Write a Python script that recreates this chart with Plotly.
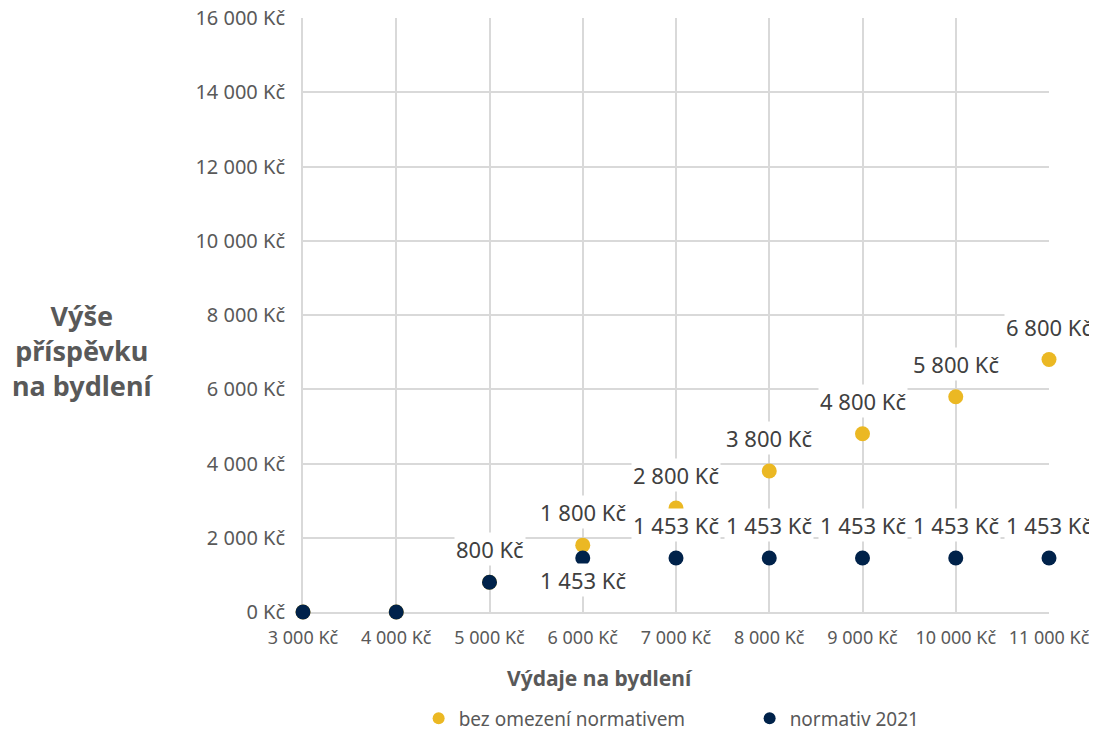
import plotly.graph_objects as go

# Data
vydaje = [3000, 4000, 5000, 6000, 7000, 8000, 9000, 10000, 11000]
bez_omezeni = [0, 0, 800, 1800, 2800, 3800, 4800, 5800, 6800]
normativ_2021 = [0, 0, 800, 1453, 1453, 1453, 1453, 1453, 1453]

# which points carry a label, and where (above/below)
popisky_bez = [None, None, None, "above", "above", "above", "above", "above", "above"]
popisky_norm = [None, None, "above", "below", "above", "above", "above", "above", "above"]

x_ticks = [3000, 4000, 5000, 6000, 7000, 8000, 9000, 10000, 11000]
y_ticks = [0, 2000, 4000, 6000, 8000, 10000, 12000, 14000, 16000]

ZLUTA = "#EBB823"
MODRA = "#00224A"
SEDA = "#595959"
FONT = "Noto Sans"


def kc(v):
    return f"{v:,.0f}".replace(",", " ") + " Kč"


fig = go.Figure()
fig.add_trace(go.Scatter(
    x=vydaje, y=bez_omezeni, mode="markers", name="bez omezení normativem",
    marker=dict(color=ZLUTA, size=15), cliponaxis=False,
))
fig.add_trace(go.Scatter(
    x=vydaje, y=normativ_2021, mode="markers", name="normativ 2021",
    marker=dict(color=MODRA, size=15), cliponaxis=False,
))

# popisky dat s bílým pozadím (jako v Excelu)
for serie, pozice in [(bez_omezeni, popisky_bez), (normativ_2021, popisky_norm)]:
    for x, y, p in zip(vydaje, serie, pozice):
        if p is None:
            continue
        fig.add_annotation(
            x=x, y=y, text=kc(y), showarrow=False,
            yshift=33 if p == "above" else -22,
            bgcolor="white", borderpad=1,
            font=dict(family=FONT, size=22, color="#404040"),
        )

# titulek osy y (vodorovně, tři řádky)
fig.add_annotation(
    xref="paper", yref="paper", x=-0.295, xanchor="center", y=0.441, yanchor="middle",
    text="<b>Výše<br>příspěvku<br>na bydlení</b>", showarrow=False,
    font=dict(family=FONT, size=27, color=SEDA), align="center",
)

# titulek osy x (v originále není vystředěný na graf)
fig.add_annotation(
    xref="paper", yref="paper", x=0.398, xanchor="center", y=-0.111, yanchor="middle",
    text="<b>Výdaje na bydlení</b>", showarrow=False,
    font=dict(family=FONT, size=21, color=SEDA),
)

# stránka má okraj 8 px, proto je figura o 8 px menší a okraje posunuté
fig.update_layout(
    width=1089, height=724,
    margin=dict(l=295, r=48, t=10, b=120, autoexpand=False),
    plot_bgcolor="white", paper_bgcolor="white",
    font=dict(family=FONT, color=SEDA),
    showlegend=True,
    legend=dict(
        orientation="h", x=0.155, xanchor="left", y=-0.179, yanchor="middle",
        font=dict(family=FONT, size=19, color=SEDA),
        entrywidth=286, itemsizing="constant",
    ),
    xaxis=dict(
        range=[3000, 11000], tickvals=x_ticks, ticktext=[kc(v) for v in x_ticks],
        showgrid=True, gridcolor="#D9D9D9", gridwidth=2,
        showline=True, linecolor="#D9D9D9", linewidth=2, zeroline=False,
        layer="below traces", ticklabeloverflow="allow",
        tickfont=dict(family=FONT, size=18, color=SEDA), ticklabelstandoff=8,
    ),
    yaxis=dict(
        range=[0, 16000], tickvals=y_ticks, ticktext=[kc(v) for v in y_ticks],
        showgrid=True, gridcolor="#D9D9D9", gridwidth=2,
        showline=True, linecolor="#D9D9D9", linewidth=2, zeroline=False,
        layer="below traces", ticklabeloverflow="allow",
        tickfont=dict(family=FONT, size=20, color=SEDA), ticklabelstandoff=12,
    ),
)

fig.write_html("out.html")
